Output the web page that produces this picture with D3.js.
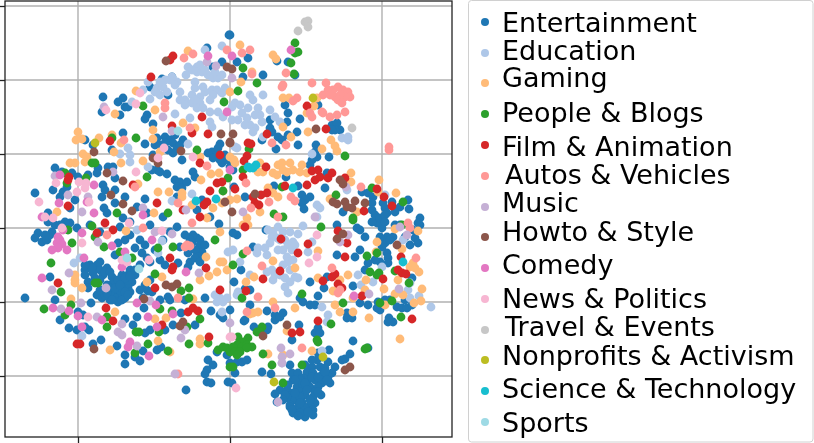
<!DOCTYPE html>
<html><head><meta charset="utf-8">
<script src="https://cdn.jsdelivr.net/npm/d3@7"></script>
<style>html,body{margin:0;padding:0;background:#fff}svg{display:block;filter:blur(0.35px)}text{font-family:"DejaVu Sans",sans-serif}</style>
</head><body>
<svg id="c" width="814" height="443"></svg>
<script>
// Values, in embedding units (no tick labels are visible in the reference).
const categories=["Entertainment","Education","Gaming","People & Blogs","Film & Animation","Autos & Vehicles","Music","Howto & Style","Comedy","News & Politics","Travel & Events","Nonprofits & Activism","Science & Technology","Sports"];
const colors=["#1f77b4","#aec7e8","#ffbb78","#2ca02c","#d62728","#ff9896","#c5b0d5","#8c564b","#e377c2","#f7b6d2","#c7c7c7","#bcbd22","#17becf","#9edae5"];
const xTicks=[78,230,382];
const yTicks=[6,80,154,228,302,376];
const entertainment=[[229,35],[207,48],[222,62],[213,67],[162,79],[172,77],[168,95],[150,87],[103,97],[123,98],[118,102],[125,107],[128,107],[102,112],[120,115],[147,115],[145,119],[153,124],[123,133],[85,140],[93,145],[112,150],[165,137],[157,138],[145,144],[155,145],[170,140],[173,143],[177,148],[183,140],[173,153],[182,160],[153,155],[157,170],[152,170],[167,174],[160,172],[220,144],[212,152],[208,153],[217,155],[220,160],[222,163],[230,167],[193,172],[195,177],[55,168],[62,172],[72,173],[78,177],[88,175],[98,168],[108,167],[113,167],[97,173],[115,178],[103,185],[105,190],[102,197],[115,190],[125,197],[115,203],[145,199],[137,207],[104,208],[107,213],[35,193],[53,190],[63,192],[60,197],[67,187],[75,200],[70,208],[48,213],[175,180],[180,182],[177,187],[182,188],[177,197],[202,200],[197,210],[187,182],[210,217],[123,218],[163,217],[147,213],
[230,35],[248,58],[237,62],[243,77],[263,75],[288,62],[277,61],[295,75],[285,105],[288,113],[287,122],[300,119],[318,105],[270,120],[270,128],[272,132],[278,137],[282,140],[276,149],[288,135],[297,132],[298,145],[262,140],[332,125],[337,123],[340,130],[335,130],[332,130],[316,145],[315,152],[317,157],[329,157],[312,160],[310,165],[286,177],[298,186],[325,188],[274,186],[245,197],[302,195],[310,197],[305,200],[302,203],[304,209],[327,173],[343,212],[362,192],[368,193],[373,197],[383,203],[392,202],[385,208],[400,207],[408,200],[409,209],[420,218],[372,203],[372,210],[387,213],[233,170],[234,187],
[25,298],[38,233],[35,238],[42,242],[47,240],[52,232],[50,277],[85,270],[90,265],[97,265],[100,270],[107,268],[85,275],[93,273],[103,275],[88,282],[88,288],[112,277],[117,283],[122,275],[128,275],[135,275],[132,282],[125,282],[118,288],[125,288],[113,292],[120,295],[115,298],[97,295],[102,298],[110,300],[118,302],[125,298],[91,303],[128,287],[113,283],[107,285],[78,312],[83,315],[69,328],[77,330],[89,330],[85,327],[101,340],[93,344],[117,346],[125,319],[133,325],[137,317],[144,308],[143,298],[152,292],[148,291],[160,300],[168,297],[145,333],[125,355],[125,364],[135,357],[140,361],[143,351],[157,350],[161,347],[135,248],[142,253],[147,258],[115,255],[125,240],[118,243],[140,265],[178,263],[160,260],[173,325],[181,313],[195,325],[211,311],[220,315],[223,318],[205,298],[188,253],[190,262],[192,243],[197,238],[200,245],[202,252],[195,250],[198,257],[193,235],[188,267],[208,360],[213,365],[207,370],[205,374],[207,382],[211,383],[228,382],[186,390],[217,352],[227,355],[219,224],[150,225],[120,227],[70,223],[77,228],[177,227],[180,247],[122,283],[128,280],[120,290],[110,293],[105,290],[130,270],[100,280],[95,278],[122,300],[105,295],[130,292],[150,262],[163,240],[170,232],[140,240],[130,235],[65,222],[55,225],[48,222],[90,225],[100,232],[130,222],[145,245],[60,320],[55,300],[165,330],[150,330],[185,300],[170,300],
[322,357],[328,362],[335,367],[332,373],[317,360],[312,367],[320,367],[325,368],[307,372],[313,373],[322,375],[328,377],[292,373],[298,373],[302,378],[293,380],[308,380],[315,380],[322,383],[330,383],[297,387],[303,385],[310,387],[318,387],[280,390],[287,390],[275,394],[293,393],[300,392],[305,395],[313,397],[321,395],[288,398],[295,400],[302,402],[315,403],[310,405],[290,405],[298,407],[305,408],[313,410],[293,413],[305,417],[313,415],[300,413],[290,407],[310,400],[262,372],[271,374],[277,402],[290,365],[345,359],[350,354],[342,360],[353,341],[329,350],[368,348],[299,325],[254,327],[268,327],[267,330],[318,328],[315,333],[320,333],[292,340],[244,321],[275,320],[275,315],[280,317],[283,313],[267,311],[347,313],[347,318],[352,318],[310,305],[315,305],[300,298],[303,302],[318,296],[324,288],[310,282],[353,286],[337,255],[355,257],[360,250],[365,237],[266,230],[237,235],[233,233],[253,247],[241,270],[234,282],[245,289],[250,290],[250,305],[230,310],[327,277],[368,263],[365,270],[378,302],[377,308],[368,305],[360,303],[388,322],[393,322],[389,318],[397,307],[402,308],[407,308],[412,305],[387,253],[388,258],[388,263],[385,243],[387,237],[393,237],[382,228],[380,237],[383,223],[377,223],[418,223],[413,230],[415,238],[418,243],[405,237],[412,278],[372,222],[357,228],[360,230],[337,225],[245,320],[230,363],[242,362],[247,360],[235,373],[237,362],[232,383],
[300,380],[305,383],[312,377],[318,377],[325,372],[300,397],[307,390],[315,392],[295,393],[285,395],[283,400],[292,410],[300,403],[308,412],[298,416],[318,392],[327,380],[305,365],[312,360],[318,353],[295,380],[288,385],
[92,268],[100,262],[105,272],[110,272],[85,265],[118,280],[125,278],[130,276],[110,288],[115,288],[120,285],[125,292],[107,293],[112,300],[128,295],[135,270],[100,290],
[160,145],[165,143],[175,135],[180,145],[168,150],[213,158],[218,148],[225,155],[228,160],
[375,215],[380,218],[385,215],[395,212],[385,222],[390,240],[382,247],[395,225],[380,262],[375,260],[400,225],[420,225],[410,245],[390,300],[405,300],[385,300],[380,310],
[190,240],[200,240],[205,245],[195,258],[185,235],[200,262],[150,280],[145,285],[155,250],[165,265],[140,290],[60,225],[50,235],[45,235]];
const education=[[188,67],[197,67],[200,65],[197,72],[202,72],[186,75],[208,75],[213,78],[218,78],[222,75],[195,82],[203,87],[212,90],[217,90],[222,93],[213,95],[225,88],[180,92],[192,95],[200,97],[180,100],[185,100],[192,103],[200,103],[197,108],[203,108],[210,112],[218,112],[223,117],[210,122],[212,127],[190,118],[175,114],[157,88],[163,87],[170,80],[177,82],[172,77],[148,82],[160,95],[167,92],[143,90],[150,99],[132,102],[222,46],[205,50],[128,148],[130,155],[120,154],[130,162],[148,167],[188,144],[192,194],[172,201],
[250,95],[253,100],[235,103],[232,107],[258,108],[242,113],[260,115],[247,118],[232,120],[238,120],[262,122],[250,125],[255,128],[253,132],[263,95],[270,110],[275,117],[280,122],[263,137],[235,147],[237,148],[342,138],[348,137],[348,140],[312,154],[347,190],[317,205],[320,208],[317,217],[385,195],
[273,233],[268,230],[278,227],[290,232],[298,234],[272,237],[277,238],[285,240],[293,242],[288,245],[278,250],[283,250],[292,250],[287,257],[288,262],[293,260],[308,252],[303,226],[258,248],[265,248],[267,255],[257,253],[233,250],[240,262],[267,272],[272,270],[250,275],[273,280],[280,275],[285,278],[295,277],[298,278],[290,282],[285,287],[288,293],[238,292],[237,295],[322,307],[328,315],[327,322],[358,275],[361,285],[373,282],[382,267],[410,283],[408,290],[410,298],[419,296],[431,307],[403,240],[322,351],[282,363],[312,242],
[74,263],[80,258],[215,295],[220,298],[223,302],[217,302],[227,298],[222,312],[82,336],[228,252],[162,241],[158,253],[137,230],
[205,70],[215,72],[192,70],[195,88],[205,92],[210,100],[195,100],[185,105],[165,80],[155,92],[175,85],[160,82],[248,108],[240,105],[255,115],[245,125],[280,240],[283,232],[270,243],[295,245],[283,265],[275,275],[290,270]];
const gaming=[[78,132],[76,140],[82,139],[99,138],[112,135],[121,143],[114,152],[83,154],[87,157],[85,162],[75,163],[70,163],[121,163],[143,161],[115,114],[136,91],[155,110],[188,51],[183,123],[153,130],[153,139],[160,152],[200,157],[201,180],[211,174],[219,173],[158,192],[169,192],[182,193],[182,197],[192,205],[213,208],[222,203],[230,200],[223,191],[138,184],[195,128],[230,143],[230,92],[154,213],[57,212],[207,218],
[240,45],[273,55],[276,59],[252,72],[241,82],[283,98],[289,98],[317,98],[314,106],[307,113],[283,127],[308,132],[291,137],[322,149],[331,140],[335,146],[337,151],[230,157],[234,160],[235,163],[260,163],[258,172],[263,172],[273,173],[278,165],[282,163],[283,170],[290,163],[293,170],[302,165],[300,172],[307,173],[277,175],[287,172],[351,173],[351,182],[379,180],[396,193],[268,188],[278,197],[273,193],[237,199],[260,212],[247,218],[330,199],[357,212],[378,192],
[75,275],[75,280],[75,283],[82,288],[71,299],[115,312],[110,350],[126,231],[147,282],[162,277],[155,319],[166,318],[158,341],[170,352],[200,280],[209,276],[217,272],[220,262],[223,262],[227,270],[220,232],[206,257],[200,339],[200,344],[193,299],
[243,225],[248,225],[273,261],[295,268],[254,277],[246,282],[318,251],[318,278],[348,275],[340,280],[366,280],[333,291],[335,305],[340,312],[353,312],[369,318],[273,302],[295,308],[253,313],[258,312],[250,314],[400,339],[312,351],[287,331],[268,354],[283,355],[377,242],[376,252],[395,229],[418,231],[413,263],[410,267],[419,272],[415,268],[398,280],[384,289],[365,290],[422,289],[421,301],[414,303],[403,295],[395,294],[385,305],[353,298],[402,249]];
const peopleBlogs=[[143,106],[136,138],[112,138],[95,163],[92,163],[147,177],[67,183],[65,173],[86,178],[117,213],[168,213],[197,150],[224,102],[228,178],[223,191],
[295,43],[298,52],[295,53],[291,63],[294,74],[243,68],[257,83],[238,91],[249,149],[345,156],[243,170],[282,187],[336,195],[372,188],[403,202],[353,218],[274,214],[283,217],
[68,230],[72,243],[92,226],[95,237],[104,247],[51,263],[155,274],[98,283],[95,283],[61,292],[44,309],[65,315],[71,305],[107,327],[107,317],[160,309],[172,311],[136,332],[139,332],[159,332],[148,344],[135,353],[168,351],[189,344],[200,319],[187,327],[181,291],[189,288],[189,298],[215,240],[173,247],[158,248],[120,252],[132,258],[208,343],[218,350],[223,347],[227,348],[230,352],[230,367],
[238,337],[248,338],[243,342],[237,345],[242,347],[247,345],[252,347],[233,347],[235,352],[240,352],[247,348],[237,355],[263,354],[262,327],[257,332],[260,332],[233,367],[272,365],[283,383],[302,365],[302,294],[242,298],[233,265],[243,254],[321,227],[331,324],[317,340],[318,342],[365,349],[367,348],[343,303],[367,256],[377,253],[370,272],[379,273],[377,275],[395,271],[409,283],[380,303],[392,301],[401,317],[402,225],[353,220]];
const filmAnimation=[[173,56],[170,60],[151,77],[202,117],[172,126],[192,133],[208,134],[110,141],[220,155],[200,163],[69,177],[68,180],[133,185],[217,183],[222,182],[210,191],[157,203],[68,206],[207,202],[204,205],[183,210],[200,217],
[267,134],[248,143],[251,144],[247,156],[244,161],[243,177],[235,189],[307,106],[326,129],[312,171],[318,170],[315,180],[320,177],[328,178],[332,173],[345,178],[285,186],[307,185],[266,167],[267,193],[261,195],[253,197],[255,203],[259,205],[377,189],[384,197],[392,206],[364,211],
[105,223],[97,233],[113,230],[170,258],[173,267],[172,270],[206,268],[155,288],[58,283],[106,308],[113,321],[162,325],[188,312],[193,308],[198,311],[209,337],[77,344],[80,344],[220,290],
[245,227],[281,239],[308,244],[298,253],[338,231],[347,243],[345,257],[280,271],[263,279],[246,291],[323,281],[332,277],[335,274],[338,284],[342,288],[362,296],[383,279],[401,257],[398,270],[402,273],[406,274],[318,321],[292,333],[300,332],[412,319]];
const autosVehicles=[[193,54],[184,58],[227,50],[165,103],[165,108],[190,128],[124,140],[207,166],[135,187],[178,203],
[250,50],[242,53],[252,74],[286,73],[283,85],[282,87],[312,83],[326,83],[323,95],[328,90],[333,90],[338,87],[343,90],[348,92],[350,97],[345,97],[340,95],[335,97],[330,95],[338,100],[342,103],[345,112],[297,98],[293,101],[310,113],[312,117],[323,113],[330,117],[337,115],[322,112],[272,143],[286,145],[389,147],[389,150],[361,187],[246,183],[291,197],[295,201],[269,202],[251,208],[278,217],
[187,245],[190,246],[185,247],[178,298],[107,235],[178,374],[143,228],[192,223],
[247,251],[262,266],[258,297],[247,312],[275,308],[332,268],[340,290],[338,293],[416,258],[302,348],[408,223],[410,228]];
const music=[[216,66],[207,62],[163,117],[172,131],[104,107],[113,172],[55,176],[68,195],[88,197],[82,212],[143,208],[186,210],
[232,78],[243,212],[346,187],[315,217],
[98,242],[69,273],[52,290],[61,309],[81,303],[97,317],[106,288],[122,324],[118,332],[122,335],[137,346],[150,301],[175,374],[181,338],[185,330],[199,273],[172,234],[155,232],
[348,235],[340,242],[400,227],[407,235],[369,294],[399,289],[281,348],[290,354],[282,357],[282,363],[278,402],[230,323]];
const howtoStyle=[[166,61],[227,67],[221,134],[230,142],[94,152],[153,158],[158,163],[181,151],[107,173],[123,181],[111,195],[123,204],[132,211],[225,202],
[232,69],[233,134],[230,143],[316,129],[340,180],[343,184],[255,194],[333,202],[337,204],[345,202],[355,201],[365,203],[347,207],[352,208],[232,212],
[144,299],[166,285],[172,287],[177,284],[183,322],[180,326],[94,349],
[343,234],[337,239],[397,245],[287,325],[263,336],[345,370],[350,367]];
const comedy=[[208,56],[227,112],[60,175],[94,185],[59,203],[87,202],[94,213],[143,215],[230,170],[42,217],
[291,50],[232,56],
[82,233],[60,240],[57,243],[62,244],[58,248],[52,250],[67,250],[63,230],[58,237],[84,258],[42,278],[112,246],[125,252],[122,267],[53,308],[69,311],[78,316],[82,327],[102,320],[148,317],[137,303],[156,305],[173,314],[157,327],[152,240],[186,272],[130,342],[128,347],[149,356],
[354,296]];
const newsPolitics=[[140,93],[136,104],[106,110],[136,172],[158,158],[164,148],[193,157],[56,183],[79,182],[86,183],[85,188],[77,192],[39,202],[89,202],[45,217],[53,218],
[82,243],[62,228],[127,262],[122,260],[149,260],[88,317],[230,337],[162,231],[129,223],
[317,235],[317,257],[309,263],[232,337],[236,388]];
const travelEvents=[[298,31],[305,22],[308,21],[308,27],[352,128]];
const nonprofits=[[95,143],[313,98],[323,357],[274,382]];
const scienceTech=[[196,201],[216,199],[248,167],[253,168],[256,165],[250,168],[293,188],[403,262]];
const sports=[[178,131],[127,258],[139,269]];
const seriesValues=[entertainment,education,gaming,peopleBlogs,filmAnimation,autosVehicles,music,howtoStyle,comedy,newsPolitics,travelEvents,nonprofits,scienceTech,sports];

const svg=d3.select("#c");
const m={l:5,r:452,t:1,b:437};
const x=d3.scaleLinear().domain([5,452]).range([m.l,m.r]);
const y=d3.scaleLinear().domain([1,437]).range([m.t,m.b]);
// grid
svg.append("g").selectAll("line").data(xTicks).join("line")
  .attr("x1",d=>x(d)).attr("x2",d=>x(d)).attr("y1",m.t).attr("y2",m.b).attr("stroke","#b0b0b0").attr("stroke-width",1.4);
svg.append("g").selectAll("line").data(yTicks).join("line")
  .attr("y1",d=>y(d)).attr("y2",d=>y(d)).attr("x1",m.l).attr("x2",m.r).attr("stroke","#b0b0b0").attr("stroke-width",1.4);
// points
const g=svg.append("g");
seriesValues.forEach((pts,i)=>{
  g.append("g").selectAll("circle").data(pts).join("circle")
    .attr("cx",d=>x(d[0])).attr("cy",d=>y(d[1])).attr("r",4.4).attr("fill",colors[i]);
});
// axes
const ax=svg.append("g").attr("transform",`translate(0,${m.b})`).call(d3.axisBottom(x).tickValues(xTicks).tickFormat("").tickSize(6).tickSizeOuter(0));
const ay=svg.append("g").attr("transform",`translate(${m.l},0)`).call(d3.axisLeft(y).tickValues(yTicks).tickFormat("").tickSize(5).tickSizeOuter(0));
[ax,ay].forEach(a=>{a.select(".domain").remove();a.selectAll("line").attr("stroke","#222").attr("stroke-width",1.3);});
svg.append("rect").attr("x",m.l).attr("y",m.t).attr("width",m.r-m.l).attr("height",m.b-m.t).attr("fill","none").attr("stroke","#222").attr("stroke-width",1.3);
// legend
const markerY=[22,53,83,114,145,176,207,237,268,299,330,360,391,422];
const baseY=[32,60,87,122,156,184,212,241,274,308,336,365,398,432];
const textX=[502,502,502,502,502,505,502,502,502,502,505,502,502,502];
svg.append("rect").attr("x",468.5).attr("y",0.5).attr("width",344.5).attr("height",441.5).attr("rx",3).attr("fill","#fff").attr("stroke","#d0d0d0").attr("stroke-width",1);
const lg=svg.append("g");
lg.selectAll("circle").data(categories).join("circle").attr("cx",485).attr("cy",(d,i)=>markerY[i]).attr("r",4).attr("fill",(d,i)=>colors[i]);
lg.selectAll("text").data(categories).join("text").attr("x",(d,i)=>textX[i]).attr("y",(d,i)=>baseY[i]).attr("font-size",27).attr("fill","#000").text(d=>d);
</script>
</body></html>
